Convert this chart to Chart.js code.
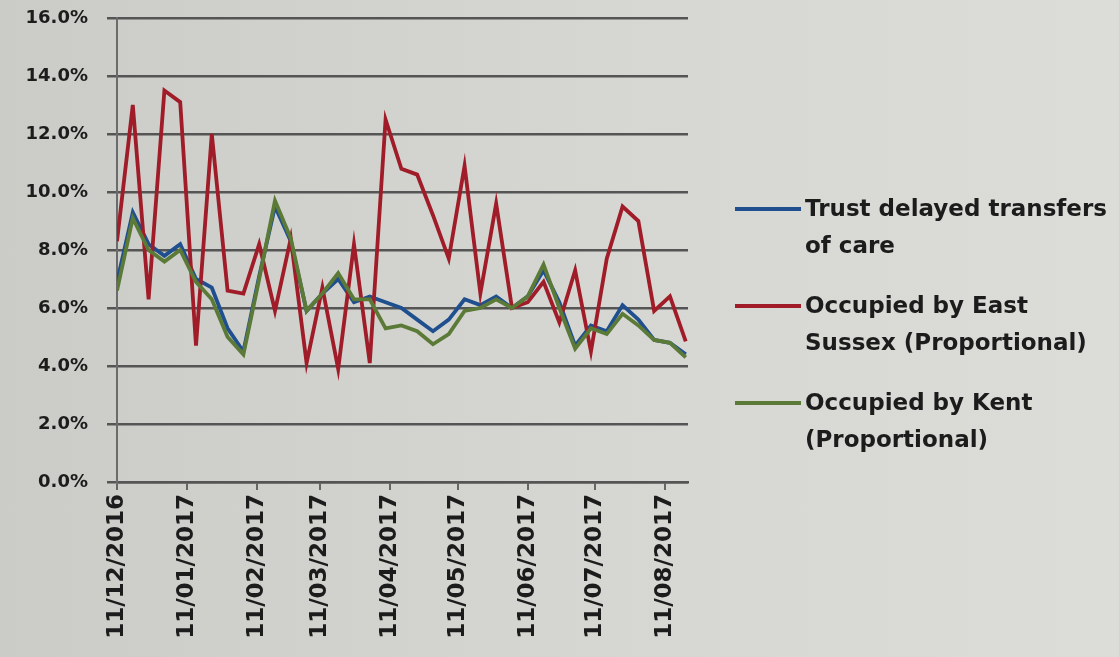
<!DOCTYPE html>
<html><head><meta charset="utf-8">
<script src="https://cdn.jsdelivr.net/npm/chart.js@4.4.1/dist/chart.umd.min.js"></script>
<style>
html,body{margin:0;padding:0;width:1119px;height:657px;overflow:hidden;}
body{background:linear-gradient(to right,#cbccc7 0%,#d6d7d2 55%,#dcddd9 100%);font-family:"DejaVu Sans",sans-serif;}
#wrap{position:relative;width:1119px;height:657px;}
canvas{position:absolute;left:0;top:0;}
#legend{position:absolute;left:735px;top:190px;}
.item{position:relative;height:97px;}
.sw{position:absolute;left:0;top:17px;width:66px;height:4px;}
.txt{position:absolute;left:70px;top:0;font-weight:bold;font-size:23px;line-height:37px;color:#1c1c1c;white-space:nowrap;}
</style></head>
<body>
<div id="wrap"><canvas id="c" width="1119" height="657"></canvas><div id="legend"></div></div>
<script>
const weekDates = ["11/12/2016","18/12/2016","25/12/2016","01/01/2017","08/01/2017","15/01/2017","22/01/2017","29/01/2017","05/02/2017","12/02/2017","19/02/2017","26/02/2017","05/03/2017","12/03/2017","19/03/2017","26/03/2017","02/04/2017","09/04/2017","16/04/2017","23/04/2017","30/04/2017","07/05/2017","14/05/2017","21/05/2017","28/05/2017","04/06/2017","11/06/2017","18/06/2017","25/06/2017","02/07/2017","09/07/2017","16/07/2017","23/07/2017","30/07/2017","06/08/2017","13/08/2017","20/08/2017"];
const trustDelayed = [6.9,9.3,8.2,7.8,8.2,7.0,6.7,5.3,4.5,7.1,9.5,8.3,5.9,6.5,7.0,6.2,6.4,6.2,6.0,5.6,5.2,5.6,6.3,6.1,6.4,6.0,6.4,7.3,6.2,4.7,5.4,5.2,6.1,5.6,4.9,4.8,4.4];
const eastSussex = [8.3,13.0,6.3,13.5,13.1,4.7,12.0,6.6,6.5,8.2,5.9,8.4,4.1,6.7,3.9,8.2,4.1,12.5,10.8,10.6,9.2,7.7,10.9,6.5,9.6,6.0,6.2,6.9,5.5,7.3,4.5,7.7,9.5,9.0,5.9,6.4,4.85];
const kent = [6.6,9.1,8.0,7.6,8.0,6.9,6.3,5.0,4.4,7.0,9.7,8.4,5.9,6.5,7.2,6.3,6.3,5.3,5.4,5.2,4.75,5.1,5.9,6.0,6.3,6.0,6.4,7.5,6.0,4.6,5.3,5.1,5.8,5.4,4.9,4.8,4.3];
const tickLabels = ["11/12/2016","11/01/2017","11/02/2017","11/03/2017","11/04/2017","11/05/2017","11/06/2017","11/07/2017","11/08/2017"];
const seriesNames = [["Trust delayed transfers","of care"],["Occupied by East","Sussex (Proportional)"],["Occupied by Kent","(Proportional)"]];
const seriesColors = ["#1f4f8f","#a01c28","#5c7a37"];

function toDay(s){const p=s.split("/");return Date.UTC(+p[2],+p[1]-1,+p[0])/86400000;}
const d0 = toDay(weekDates[0]);
const xDays = weekDates.map(s=>toDay(s)-d0);
const tickDays = tickLabels.map(s=>toDay(s)-d0);
const seriesValues = [trustDelayed, eastSussex, kent];

const datasets = seriesValues.map((vals,k)=>({
  label: seriesNames[k].join(" "),
  data: vals.map((v,i)=>({x:xDays[i], y:v})),
  borderColor: seriesColors[k],
  backgroundColor: seriesColors[k],
  borderWidth: 3.8,
  pointRadius: 0,
  tension: 0,
  fill: false,
  order: 3-k
}));

const chart = new Chart(document.getElementById("c"), {
  type: "line",
  data: {datasets},
  options: {
    responsive: false,
    animation: false,
    layout: {padding: {left: 0, top: 18, right: 431, bottom: 0}},
    plugins: {legend: {display: false}, tooltip: {enabled: false}},
    scales: {
      x: {
        type: "linear", min: 0, max: 253,
        afterBuildTicks: s => { s.ticks = tickDays.map(v=>({value:v})); },
        afterFit: s => { s.height = 175; s.paddingLeft = 0; s.paddingRight = 0; },
        ticks: {autoSkip: false, maxRotation: 90, minRotation: 90, padding: 4,
          color: "#1c1c1c", font: {family: "DejaVu Sans", size: 23, weight: "bold"},
          callback: (v,i) => tickLabels[i]},
        grid: {drawOnChartArea: false, drawTicks: true, tickLength: 8, color: "#666", lineWidth: 2},
        border: {color: "#555", width: 2.5}
      },
      y: {
        min: 0, max: 16,
        afterFit: s => { s.width = 117; s.paddingTop = 0; s.paddingBottom = 0; },
        ticks: {stepSize: 2, padding: 19, color: "#1c1c1c",
          font: {family: "DejaVu Sans", size: 18, weight: "bold"},
          callback: v => v.toFixed(1) + "%"},
        grid: {color: "#555", lineWidth: 2.5, tickLength: 10},
        border: {color: "#6b6b6b", width: 2}
      }
    }
  }
});

const lg = document.getElementById("legend");
chart.data.datasets.forEach((ds,k)=>{
  const it = document.createElement("div"); it.className = "item";
  const sw = document.createElement("div"); sw.className = "sw"; sw.style.background = ds.borderColor;
  const tx = document.createElement("div"); tx.className = "txt";
  seriesNames[k].forEach((line,j)=>{ if(j) tx.appendChild(document.createElement("br")); tx.appendChild(document.createTextNode(line)); });
  it.appendChild(sw); it.appendChild(tx); lg.appendChild(it);
});
</script>
</body></html>
